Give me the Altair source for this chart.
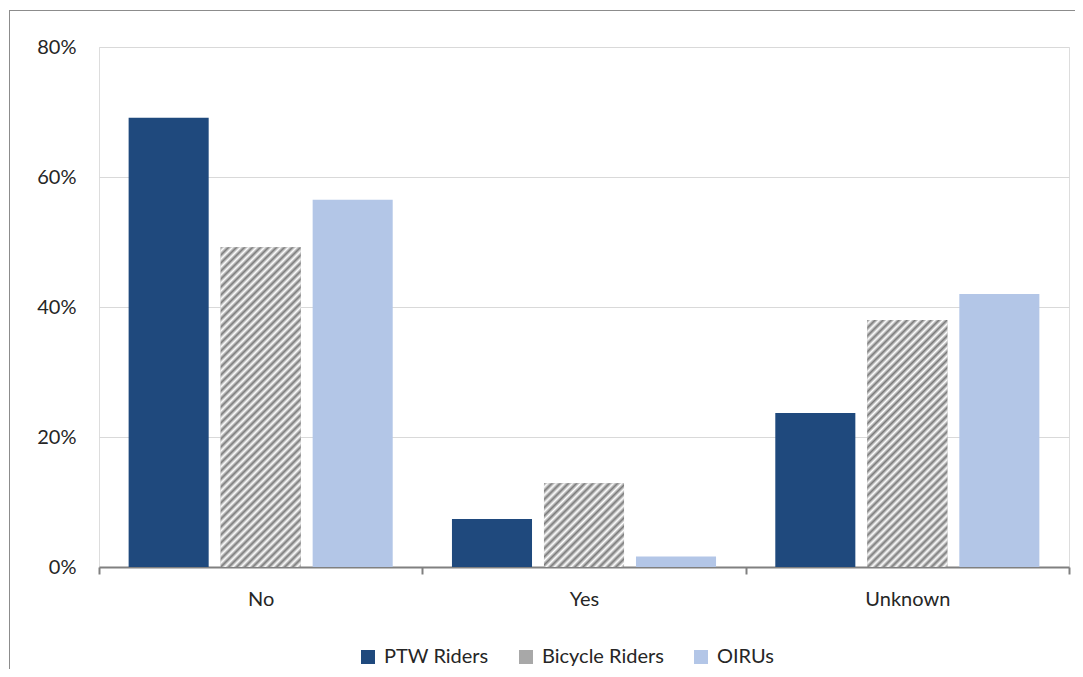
import altair as alt
import pandas as pd

categories = ["No", "Yes", "Unknown"]
series = ["PTW Riders", "Bicycle Riders", "OIRUs"]
ptw = [0.691, 0.074, 0.237]
bicycle = [0.492, 0.129, 0.380]
oirus = [0.565, 0.016, 0.420]
y_ticks = [0, 0.2, 0.4, 0.6, 0.8]

colors = ["#1f497d", "#a8a8a8", "#b3c6e7"]
FONT = "Lato"
HATCH_DARK = "#7a7a7a"

rows = []
for s, vals in zip(series, [ptw, bicycle, oirus]):
    for c, v in zip(categories, vals):
        rows.append({"category": c, "series": s, "value": v})
df = pd.DataFrame(rows)

PW, PH = 970, 520
PAD = {"left": 91, "top": 39, "right": 6, "bottom": 102}
YMAX = 0.8
band = PW / 3
p_in, p_out = 0.13, 0.322
step = band / (3 - p_in + 2 * p_out)
bar_w = step * (1 - p_in)
PERIOD = 8.0


def hatch_gradient(w, h):
    n = max(1, int(round((w + h) / PERIOD)))
    lam = (w + h) / (w * w + h * h)
    stops = []
    for k in range(n):
        stops.append(alt.GradientStop(offset=k / n, color=HATCH_DARK))
        stops.append(alt.GradientStop(offset=(k + 0.5) / n, color="#ffffff"))
    stops.append(alt.GradientStop(offset=1.0, color=HATCH_DARK))
    return alt.LinearGradient(gradient="linear", stops=stops,
                              x1=0, y1=0, x2=w * lam, y2=h * lam)


x_enc = alt.X(
    "category:N",
    sort=categories,
    scale=alt.Scale(domain=categories, paddingInner=0, paddingOuter=0),
    axis=alt.Axis(
        title=None, labelAngle=0, tickBand="extent", tickColor="#808080",
        tickWidth=2, tickSize=7, domainColor="#808080", domainWidth=2,
        labelPadding=15, labelFontSize=20, labelFont=FONT, labelColor="#262626",
    ),
)
xo_enc = alt.XOffset(
    "series:N", sort=series,
    scale=alt.Scale(domain=series, paddingInner=p_in, paddingOuter=p_out),
)
y_enc = alt.Y(
    "value:Q",
    scale=alt.Scale(domain=[0, YMAX], nice=False, zero=True),
    axis=alt.Axis(
        title=None, values=y_ticks, format=".0%", domain=False, ticks=False,
        tickSize=0, labelPadding=23, grid=True, gridColor="#d9d9d9", gridWidth=1,
        labelFontSize=20, labelFont=FONT, labelColor="#262626",
    ),
)

base = alt.Chart(df).mark_bar().encode(
    x=x_enc,
    xOffset=xo_enc,
    y=y_enc,
    color=alt.Color(
        "series:N",
        scale=alt.Scale(domain=series, range=colors),
        legend=alt.Legend(
            title=None, orient="none", legendX=259, legendY=600,
            direction="horizontal", symbolType="square", symbolSize=196,
            symbolStrokeWidth=0, labelFontSize=20, labelFont=FONT,
            labelColor="#262626", labelOffset=6, columnPadding=27, padding=0,
        ),
    ),
)

layers = []

# outer chart frame (top and left edges; right/bottom lie beyond the window)
right_edge = PW + PAD["right"]
bottom_edge = PH + PAD["bottom"]
frame_df = pd.DataFrame({"f": [0]})
frame_top = alt.Chart(frame_df).mark_rect(fill="#8c8c8c", strokeWidth=0).encode(
    x=alt.value(-90), x2=alt.value(right_edge), y=alt.value(-37), y2=alt.value(-36)
)
frame_left = alt.Chart(frame_df).mark_rect(fill="#8c8c8c", strokeWidth=0).encode(
    x=alt.value(-90), x2=alt.value(-89), y=alt.value(-37), y2=alt.value(bottom_edge)
)
layers += [frame_top, frame_left, base]

for c, v in zip(categories, bicycle):
    h = v / YMAX * PH
    hatch = alt.Chart(df).transform_filter(
        (alt.datum.series == "Bicycle Riders") & (alt.datum.category == c)
    ).mark_bar(fill=hatch_gradient(bar_w, h)).encode(x=x_enc, xOffset=xo_enc, y=y_enc)
    layers.append(hatch)

chart = alt.layer(*layers).properties(
    width=PW, height=PH,
    padding=PAD,
    autosize=alt.AutoSizeParams(type="none"),
).configure_view(
    stroke="#b3b3b3", strokeWidth=1.5
).configure(background="white")

chart.save("out.html", embed_options={"renderer": "svg", "actions": False})
